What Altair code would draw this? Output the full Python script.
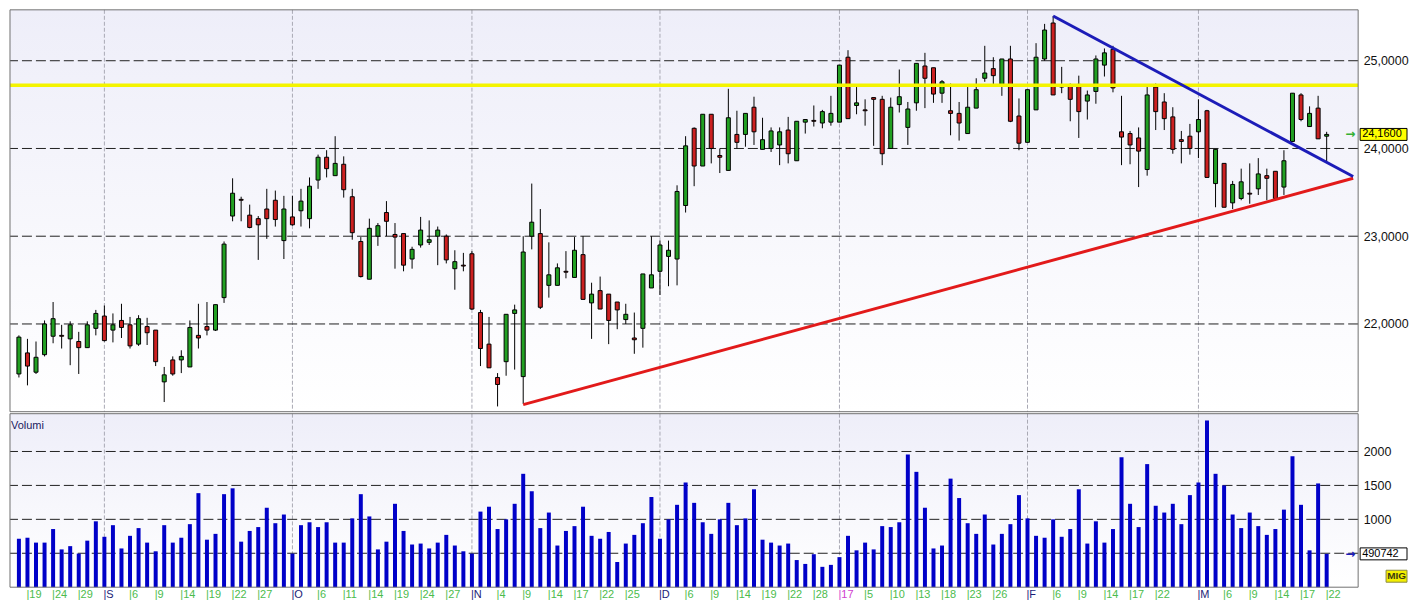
import altair as alt
import pandas as pd

# ---------------- data ----------------
opens = [21.43, 21.67, 21.45, 21.65, 21.86, 21.87, 21.83, 21.80, 21.73, 21.95,
         22.09, 21.93, 22.04, 21.99, 21.77, 21.97, 21.93, 21.34, 21.59, 21.59,
         21.51, 21.87, 21.97, 21.93, 22.30, 23.23, 23.42, 23.24, 23.20, 23.31,
         23.41, 22.95, 23.22, 23.29, 23.20, 23.64, 23.90, 23.69, 23.82, 23.45,
         22.94, 22.51, 23.00, 23.27, 23.02, 23.03, 22.74, 22.90, 22.93, 23.00,
         23.00, 22.63, 22.67, 22.80, 22.13, 21.77, 21.39, 21.57, 22.12, 21.40,
         23.00, 23.03, 22.44, 22.44, 22.60, 22.53, 22.79, 22.24, 22.38, 22.34,
         22.25, 22.05, 21.84, 21.95, 22.41, 22.60, 22.77, 22.74, 23.35, 24.23,
         23.80, 24.39, 23.92, 23.75, 24.16, 24.16, 24.47, 23.99, 24.00, 24.04,
         24.21, 23.86, 24.30, 24.32, 24.29, 24.30, 24.30, 25.04, 24.49, 24.44,
         24.58, 24.56, 24.00, 24.50, 24.24, 24.52, 24.94, 24.92, 24.63, 24.43,
         24.40, 24.17, 24.46, 24.80, 24.91, 24.73, 25.02, 24.37, 24.07, 24.44,
         25.02, 25.43, 24.71, 24.72, 24.73, 24.54, 24.65, 24.95, 25.13, 24.19,
         24.17, 24.12, 23.76, 24.70, 24.53, 24.36, 24.10, 24.14, 24.19, 24.43,
         23.60, 23.83, 23.38, 23.43, 23.49, 23.54, 23.69, 23.74, 23.56, 24.08,
         24.61, 24.25, 24.46, 24.14]
highs = [21.87, 21.83, 21.80, 22.04, 22.25, 21.99, 22.03, 21.91, 22.03, 22.16,
         22.21, 22.12, 22.23, 22.08, 22.10, 22.07, 21.93, 21.51, 21.63, 21.70,
         22.04, 22.23, 22.25, 22.22, 22.94, 23.66, 23.45, 23.36, 23.23, 23.54,
         23.52, 23.46, 23.46, 23.54, 23.67, 23.93, 23.98, 24.14, 23.91, 23.54,
         22.99, 23.20, 23.15, 23.40, 23.15, 23.03, 22.88, 23.22, 23.18, 23.11,
         23.02, 22.84, 22.81, 22.83, 22.16, 22.08, 21.44, 22.11, 22.22, 23.00,
         23.60, 23.31, 22.93, 22.69, 22.83, 22.99, 23.00, 22.47, 22.54, 22.34,
         22.25, 22.23, 22.13, 22.57, 23.00, 22.95, 22.95, 23.58, 24.14, 24.24,
         24.39, 24.39, 24.00, 24.68, 24.43, 24.40, 24.59, 24.35, 24.24, 24.24,
         24.36, 24.31, 24.33, 24.49, 24.44, 24.60, 24.95, 25.12, 24.70, 24.56,
         24.58, 24.60, 24.58, 24.90, 24.53, 24.97, 25.09, 24.92, 24.78, 24.74,
         24.53, 24.70, 24.80, 25.17, 25.04, 25.02, 25.17, 24.57, 24.67, 25.20,
         25.42, 25.51, 24.93, 24.74, 24.83, 24.66, 25.06, 25.14, 25.17, 24.60,
         24.20, 24.24, 24.70, 24.74, 24.63, 24.47, 24.20, 24.28, 24.56, 24.44,
         23.99, 23.83, 23.63, 23.77, 23.83, 23.89, 23.77, 23.74, 23.98, 24.63,
         24.63, 24.48, 24.60, 24.19]
lows = [21.39, 21.30, 21.43, 21.63, 21.78, 21.72, 21.53, 21.43, 21.73, 21.87,
        21.80, 21.79, 21.84, 21.72, 21.75, 21.76, 21.52, 21.11, 21.41, 21.44,
        21.51, 21.72, 21.87, 21.92, 22.24, 23.17, 23.17, 23.09, 22.73, 22.97,
        23.11, 22.74, 23.12, 23.11, 23.09, 23.54, 23.67, 23.69, 23.44, 22.96,
        22.53, 22.51, 22.89, 23.00, 22.63, 22.60, 22.63, 22.87, 22.90, 22.67,
        22.69, 22.39, 22.60, 22.16, 21.52, 21.50, 21.06, 21.41, 21.48, 21.09,
        22.85, 22.17, 22.30, 22.44, 22.52, 22.53, 22.28, 21.83, 22.17, 21.77,
        21.94, 22.00, 21.66, 21.73, 22.41, 22.33, 22.43, 22.44, 23.27, 23.57,
        23.80, 23.83, 23.72, 23.75, 24.00, 24.02, 24.04, 23.99, 23.96, 23.81,
        23.83, 23.86, 24.17, 24.25, 24.23, 24.26, 24.30, 24.34, 24.39, 24.26,
        24.03, 23.81, 24.00, 24.41, 24.04, 24.43, 24.46, 24.52, 24.52, 24.15,
        24.09, 24.17, 24.46, 24.76, 24.73, 24.60, 24.30, 23.98, 24.07, 24.44,
        25.00, 24.61, 24.63, 24.31, 24.12, 24.33, 24.51, 24.82, 24.64, 23.81,
        23.82, 23.56, 23.69, 24.21, 24.21, 23.94, 23.83, 23.93, 23.89, 23.67,
        23.33, 23.33, 23.31, 23.41, 23.37, 23.47, 23.41, 23.41, 23.47, 24.08,
        24.31, 24.25, 24.11, 23.84]
closes = [21.85, 21.52, 21.62, 22.00, 22.06, 21.86, 21.99, 21.73, 21.99, 22.12,
          21.81, 21.99, 21.96, 21.75, 22.06, 21.90, 21.57, 21.42, 21.43, 21.63,
          21.96, 21.84, 21.93, 22.22, 22.91, 23.49, 23.41, 23.10, 23.13, 23.20,
          23.19, 23.31, 23.13, 23.40, 23.57, 23.90, 23.77, 23.83, 23.53, 23.04,
          22.54, 23.09, 23.12, 23.17, 22.99, 22.67, 22.85, 23.07, 22.96, 23.07,
          22.73, 22.71, 22.66, 22.17, 21.72, 21.50, 21.31, 22.11, 22.16, 22.82,
          23.16, 22.19, 22.56, 22.64, 22.59, 22.84, 22.28, 22.34, 22.17, 22.04,
          22.16, 22.11, 21.82, 22.57, 22.56, 22.90, 22.84, 23.51, 24.03, 23.80,
          24.39, 24.00, 23.90, 24.35, 24.07, 24.40, 24.19, 24.10, 24.20, 24.19,
          23.94, 24.31, 24.33, 24.31, 24.42, 24.40, 24.95, 24.34, 24.52, 24.43,
          24.56, 23.94, 24.47, 24.59, 24.45, 24.97, 24.80, 24.62, 24.76, 24.40,
          24.29, 24.47, 24.67, 24.86, 24.83, 25.02, 24.31, 24.06, 24.67, 25.04,
          25.35, 24.61, 24.70, 24.56, 24.42, 24.61, 25.02, 25.09, 24.69, 24.13,
          24.04, 23.97, 24.61, 24.42, 24.34, 23.99, 24.08, 24.00, 24.33, 23.67,
          23.99, 23.33, 23.59, 23.62, 23.48, 23.71, 23.66, 23.43, 23.86, 24.63,
          24.33, 24.40, 24.11, 24.16]

vol_aug_oct = [714, 729, 657, 657, 857, 557, 605, 495, 686, 971, 743, 914, 571, 757,
               871, 657, 529, 914, 657, 729, 929, 1386, 700, 786, 1371, 1457, 671,
               829, 886, 1171, 943, 1071, 495, 914, 957, 886, 957, 657, 657, 1014,
               1371, 1043, 557, 671, 1229, 829, 629, 643, 571, 657, 771, 614, 529,
               495, 1114]
vol_nov_jan = [1186, 857, 1000, 1229, 1671, 1414, 871, 1100, 614, 829, 900, 1186,
               757, 714, 814, 371, 643, 771, 943, 1329, 714, 1000, 1214, 1543, 1243,
               957, 786, 1000, 1243, 914, 1014, 1443, 700, 657, 614, 643, 400, 343,
               486, 300, 329, 443, 757, 543, 657, 557, 900, 886, 957, 1957, 1700,
               1171, 571, 614, 1600]
vol_jan_mar = [1314, 943, 786, 1071, 629, 786, 929, 1357, 1014, 757, 729, 1000, 743,
               857, 1443, 643, 971, 657, 857, 1914, 1229, 886, 1814, 1200, 1100, 1229,
               929, 1357, 1543, 2457, 1671, 1500, 1071, 871, 1100, 900, 771, 857,
               1143, 1929, 1214, 543, 1529, 491]
volumes = vol_aug_oct + vol_nov_jan + vol_jan_mar

label_dates = ["2016-08-19", "2016-08-24", "2016-08-29", "2016-09-01", "2016-09-06",
               "2016-09-09", "2016-09-14", "2016-09-19", "2016-09-22", "2016-09-27",
               "2016-10-03", "2016-10-06", "2016-10-11", "2016-10-14", "2016-10-19",
               "2016-10-24", "2016-10-27", "2016-11-01", "2016-11-04", "2016-11-09",
               "2016-11-14", "2016-11-17", "2016-11-22", "2016-11-25", "2016-12-01",
               "2016-12-06", "2016-12-09", "2016-12-14", "2016-12-19", "2016-12-22",
               "2016-12-28", "2017-01-02", "2017-01-05", "2017-01-10", "2017-01-13",
               "2017-01-18", "2017-01-23", "2017-01-26", "2017-02-01", "2017-02-06",
               "2017-02-09", "2017-02-14", "2017-02-17", "2017-02-22", "2017-03-01",
               "2017-03-06", "2017-03-09", "2017-03-14", "2017-03-17", "2017-03-22"]
label_texts = ["19", "24", "29", "S", "6", "9", "14", "19", "22", "27",
               "O", "6", "11", "14", "19", "24", "27", "N", "4", "9",
               "14", "17", "22", "25", "D", "6", "9", "14", "19", "22",
               "28", "17", "5", "10", "13", "18", "23", "26", "F", "6",
               "9", "14", "17", "22", "M", "6", "9", "14", "17", "22"]
label_kinds = ["day"] * 3 + ["month"] + ["day"] * 6 + ["month"] + ["day"] * 6 + \
              ["month"] + ["day"] * 6 + ["month"] + ["day"] * 6 + ["year"] + \
              ["day"] * 6 + ["month"] + ["day"] * 5 + ["month"] + ["day"] * 5

price_levels = [22, 23, 24, 25]
vol_levels = [500, 1000, 1500, 2000]
vol_axis_values = [1000, 1500, 2000]
resistance_level = [24.72]
red_x, red_y = [59, 156.1], [21.08, 23.66]
blue_x, blue_y = [121, 156.1], [25.51, 23.68]
last_volume_text = "490742"

# ---------------- tables ----------------
dates = pd.bdate_range("2016-08-18", "2017-03-22")
dates = dates[dates != pd.Timestamp("2016-12-26")]
n = len(dates)
df = pd.DataFrame({"i": range(n), "open": opens, "high": highs, "low": lows,
                   "close": closes, "vol": volumes})
month_idx = [k for k in range(1, n) if dates[k].month != dates[k - 1].month]
months_df = pd.DataFrame({"i": month_idx})
lab_df = pd.DataFrame({"i": [dates.get_loc(pd.Timestamp(d)) for d in label_dates],
                       "t": ["|" + t for t in label_texts], "kind": label_kinds})
plev_df = pd.DataFrame({"level": price_levels})
vlev_df = pd.DataFrame({"level": vol_levels})
res_df = pd.DataFrame({"level": resistance_level})
red_df = pd.DataFrame({"x": red_x, "y": red_y})
blue_df = pd.DataFrame({"x": blue_x, "y": blue_y})
last_df = pd.DataFrame({"p": [closes[-1]],
                        "label": [f"{closes[-1]:.4f}".replace(".", ",")]})
lastv_df = pd.DataFrame({"v": [volumes[-1]], "label": [last_volume_text]})
one = pd.DataFrame({"a": [0]})

W, H1, H2 = 1352, 403, 174
FONT = "Liberation Sans"
xs = alt.Scale(domain=[-0.46, 156.1], nice=False, zero=False)
ys = alt.Scale(domain=[21.0, 25.58], nice=False, zero=False)
vs = alt.Scale(domain=[0, 2557], nice=False)
GREEN, RED = "#22a022", "#cc2020"

PAXIS = alt.Axis(orient="right", values=price_levels, ticks=False, domain=False,
                 grid=False, labelFont=FONT, labelFontSize=12.5, labelColor="#111",
                 labelPadding=5, title=None,
                 labelExpr="replace(format(datum.value, '.4f'), '.', ',')")
VAXIS = alt.Axis(orient="right", values=vol_axis_values, ticks=False, domain=False,
                 grid=False, labelFont=FONT, labelFontSize=12.5, labelColor="#111",
                 labelPadding=5, title=None, format="d")


def PY(field):
    return alt.Y(field, type="quantitative", scale=ys, axis=PAXIS)


def VY(field):
    return alt.Y(field, type="quantitative", scale=vs, axis=VAXIS)


def grad():
    return alt.Gradient(gradient="linear",
                        stops=[alt.GradientStop(color="#eeeef9", offset=0),
                               alt.GradientStop(color="#ffffff", offset=1)],
                        x1=0, x2=0, y1=0, y2=1)


def panel_bg(h):
    return alt.Chart(one).mark_rect(color=grad()).encode(
        x=alt.value(0), x2=alt.value(W), y=alt.value(0), y2=alt.value(h))


def panel_border(h):
    return alt.Chart(one).mark_rect(fillOpacity=0, stroke="#707070", strokeWidth=1).encode(
        x=alt.value(0), x2=alt.value(W), y=alt.value(0), y2=alt.value(h))


def month_lines():
    return alt.Chart(months_df).mark_rule(color="#a9a9b4", strokeDash=[4, 2], strokeWidth=1).encode(
        x=alt.X("i:Q", scale=xs, axis=None))


# ---------------- price panel ----------------
pgrid = alt.Chart(plev_df).mark_rule(color="#202020", strokeDash=[10, 4], strokeWidth=1).encode(
    y=PY("level"))

wicks = alt.Chart(df).mark_rule(color="black", strokeWidth=1).encode(
    x=alt.X("i:Q", scale=xs, axis=None), y=PY("low"), y2="high:Q")

bodies = alt.Chart(df).mark_bar(size=4, stroke="black", strokeWidth=1).encode(
    x=alt.X("i:Q", scale=xs, axis=None), y=PY("open"), y2="close:Q",
    color=alt.condition("datum.close >= datum.open", alt.value(GREEN), alt.value(RED)))

yellow = alt.Chart(res_df).mark_rule(color="#f4f400", strokeWidth=3.5).encode(y=PY("level"))

red_line = alt.Chart(red_df).mark_line(color="#e21a1a", strokeWidth=3).encode(
    x=alt.X("x:Q", scale=xs, axis=None), y=PY("y"))
blue_line = alt.Chart(blue_df).mark_line(color="#1c1cb8", strokeWidth=3).encode(
    x=alt.X("x:Q", scale=xs, axis=None), y=PY("y"))

last_box = alt.Chart(last_df).mark_rect(fill="#ffff00", stroke="black", strokeWidth=1,
                                        yOffset=-6, y2Offset=6).encode(
    x=alt.value(W + 2), x2=alt.value(W + 49), y=PY("p"), y2="p:Q")
last_txt = alt.Chart(last_df).mark_text(align="left", baseline="middle", font=FONT,
                                        fontSize=11, color="black").encode(
    x=alt.value(W + 4), y=PY("p"), text="label:N")
last_arrow = alt.Chart(last_df).mark_text(align="center", baseline="middle", font="DejaVu Sans",
                                          fontSize=12, fontWeight="bold", color="#33b033",
                                          text="→").encode(
    x=alt.value(W - 8), y=PY("p"))

price = alt.layer(panel_bg(H1), month_lines(), pgrid, wicks, bodies, yellow, red_line,
                  blue_line, panel_border(H1), last_box, last_txt, last_arrow
                  ).properties(width=W, height=H1)

# ---------------- volume panel ----------------
vgrid = alt.Chart(vlev_df).mark_rule(color="#202020", strokeDash=[10, 4], strokeWidth=1).encode(
    y=VY("level"))
vbars = alt.Chart(df).mark_bar(size=4, color="#0000c8").encode(
    x=alt.X("i:Q", scale=xs, axis=None), y=VY("vol"))
vol_title = alt.Chart(one).mark_text(align="left", baseline="middle", font=FONT, fontSize=11,
                                     color="#1a1a5e", text="Volumi").encode(
    x=alt.value(1), y=alt.value(12))
lastv_box = alt.Chart(lastv_df).mark_rect(fill="white", stroke="black", strokeWidth=1,
                                          yOffset=-6, y2Offset=6).encode(
    x=alt.value(W + 2), x2=alt.value(W + 49), y=VY("v"), y2="v:Q")
lastv_txt = alt.Chart(lastv_df).mark_text(align="left", baseline="middle", font=FONT,
                                          fontSize=11, color="black").encode(
    x=alt.value(W + 4), y=VY("v"), text="label:N")
lastv_arrow = alt.Chart(lastv_df).mark_text(align="center", baseline="middle", font="DejaVu Sans",
                                            fontSize=12, fontWeight="bold", color="#1c1cb8",
                                            text="→").encode(
    x=alt.value(W - 8), y=VY("v"))
mig_box = alt.Chart(one).mark_rect(fill="#f4ef00", stroke="#8a8a40", strokeWidth=1).encode(
    x=alt.value(W + 28), x2=alt.value(W + 49), y=alt.value(H2 - 17), y2=alt.value(H2 - 5))
mig_txt = alt.Chart(one).mark_text(align="center", baseline="middle", font=FONT, fontSize=10,
                                   fontWeight="bold", color="#3a3a10", text="MIG").encode(
    x=alt.value(W + 38.5), y=alt.value(H2 - 11))
xlabels = alt.Chart(lab_df).mark_text(align="left", baseline="middle", font=FONT,
                                      fontSize=11, dx=-1).encode(
    x=alt.X("i:Q", scale=xs, axis=None), y=alt.value(H2 + 8), text="t:N",
    color=alt.Color("kind:N", legend=None,
                    scale=alt.Scale(domain=["day", "month", "year"],
                                    range=["#4cbc4c", "#1c1c78", "#d040d0"])))

volume = alt.layer(panel_bg(H2), month_lines(), vgrid, vbars, panel_border(H2), vol_title,
                   lastv_box, lastv_txt, lastv_arrow, mig_box, mig_txt, xlabels
                   ).properties(width=W, height=H2)

chart = alt.vconcat(price, volume, spacing=0, padding=0).configure_view(strokeWidth=0)
chart.save("out.html", embed_options={"renderer": "svg", "actions": False})
